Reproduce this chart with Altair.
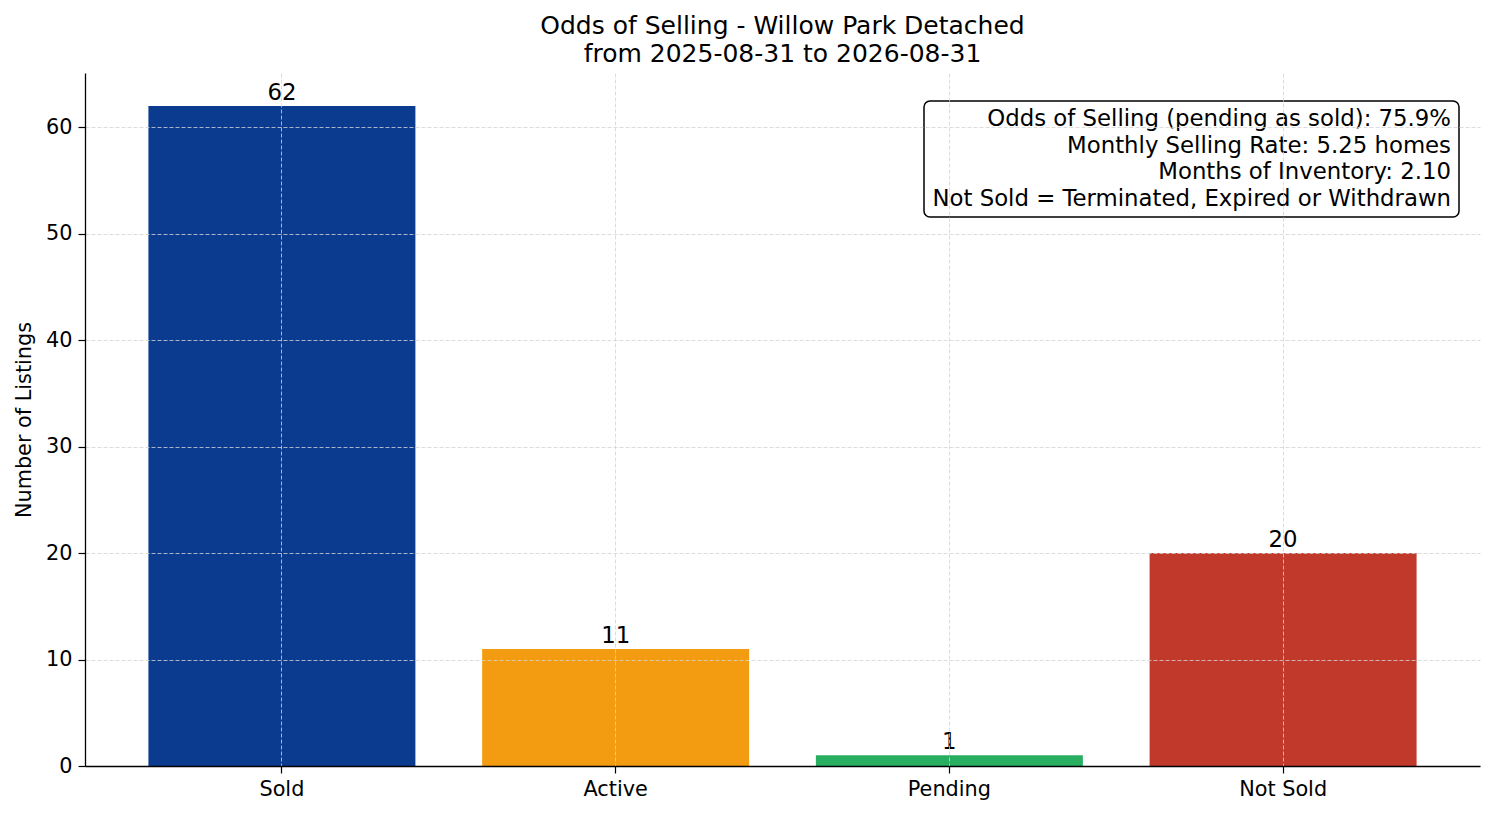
import altair as alt
import pandas as pd

# values
categories = ["Sold", "Active", "Pending", "Not Sold"]
counts = [62, 11, 1, 20]
bar_colors = ["#0b3b8f", "#f39c12", "#27ae60", "#c0392b"]
y_ticks = [0, 10, 20, 30, 40, 50, 60]
title_lines = ["Odds of Selling - Willow Park Detached", "from 2025-08-31 to 2026-08-31"]
summary_lines = [
    "Odds of Selling (pending as sold): 75.9%",
    "Monthly Selling Rate: 5.25 homes",
    "Months of Inventory: 2.10",
    "Not Sold = Terminated, Expired or Withdrawn",
]

FONT = "DejaVu Sans"
grid_kwargs = dict(grid=True, gridColor="#d3d3d3", gridDash=[4, 2], gridWidth=0.8)

data = pd.DataFrame({"status": categories, "count": counts})

x_enc = alt.X(
    "status:N",
    sort=categories,
    scale=alt.Scale(paddingInner=0.2, paddingOuter=0.19),
    axis=alt.Axis(
        title=None, labelAngle=0, labelFontSize=20.8, labelFont=FONT, labelColor="black",
        labelPadding=6, tickSize=7, tickColor="black", tickWidth=1.2,
        domainColor="black", domainWidth=1.3, bandPosition=0.5, zindex=1,
        **grid_kwargs,
    ),
)
y_enc = alt.Y(
    "count:Q",
    scale=alt.Scale(domain=[0, 65.1], nice=False),
    axis=alt.Axis(
        values=y_ticks, title="Number of Listings", titleFontSize=20.8, titleFont=FONT,
        titleFontWeight="normal", titleColor="black", titlePadding=11,
        labelFontSize=20.8, labelFont=FONT, labelColor="black", labelPadding=6,
        tickSize=7, tickColor="black", tickWidth=1.2,
        domainColor="black", domainWidth=1.3, zindex=1,
        **grid_kwargs,
    ),
)

base = alt.Chart(data).encode(x=x_enc, y=y_enc)

bars = base.mark_bar().encode(
    color=alt.Color("status:N", sort=categories,
                    scale=alt.Scale(domain=categories, range=bar_colors), legend=None)
)

labels = base.mark_text(baseline="bottom", dy=-1, fontSize=22.8, font=FONT, color="black").encode(
    text="count:Q"
)

box_df = pd.DataFrame({"k": [0]})
box = alt.Chart(box_df).mark_rect(
    fill="white", stroke="black", strokeWidth=1.5, cornerRadius=6
).encode(
    x=alt.value(839), x2=alt.value(1374), y=alt.value(28), y2=alt.value(144)
)
summary = alt.Chart(box_df).mark_text(
    text=summary_lines, align="right", baseline="middle", fontSize=22.8,
    lineHeight=26.6, font=FONT, color="black"
).encode(x=alt.value(1366), y=alt.value(46))

chart = alt.layer(bars, labels, box, summary).properties(
    width=1395,
    height=693,
    background="white",
    autosize=alt.AutoSizeParams(type="none"),
    padding={"left": 77, "top": 65, "right": 6, "bottom": 42},
    title=alt.TitleParams(
        text=title_lines, fontSize=25, font=FONT, fontWeight="normal",
        color="black", anchor="middle", offset=6, lineHeight=28,
    ),
).configure_view(stroke=None)

chart.save("out.html", embed_options={"renderer": "svg", "actions": False})
